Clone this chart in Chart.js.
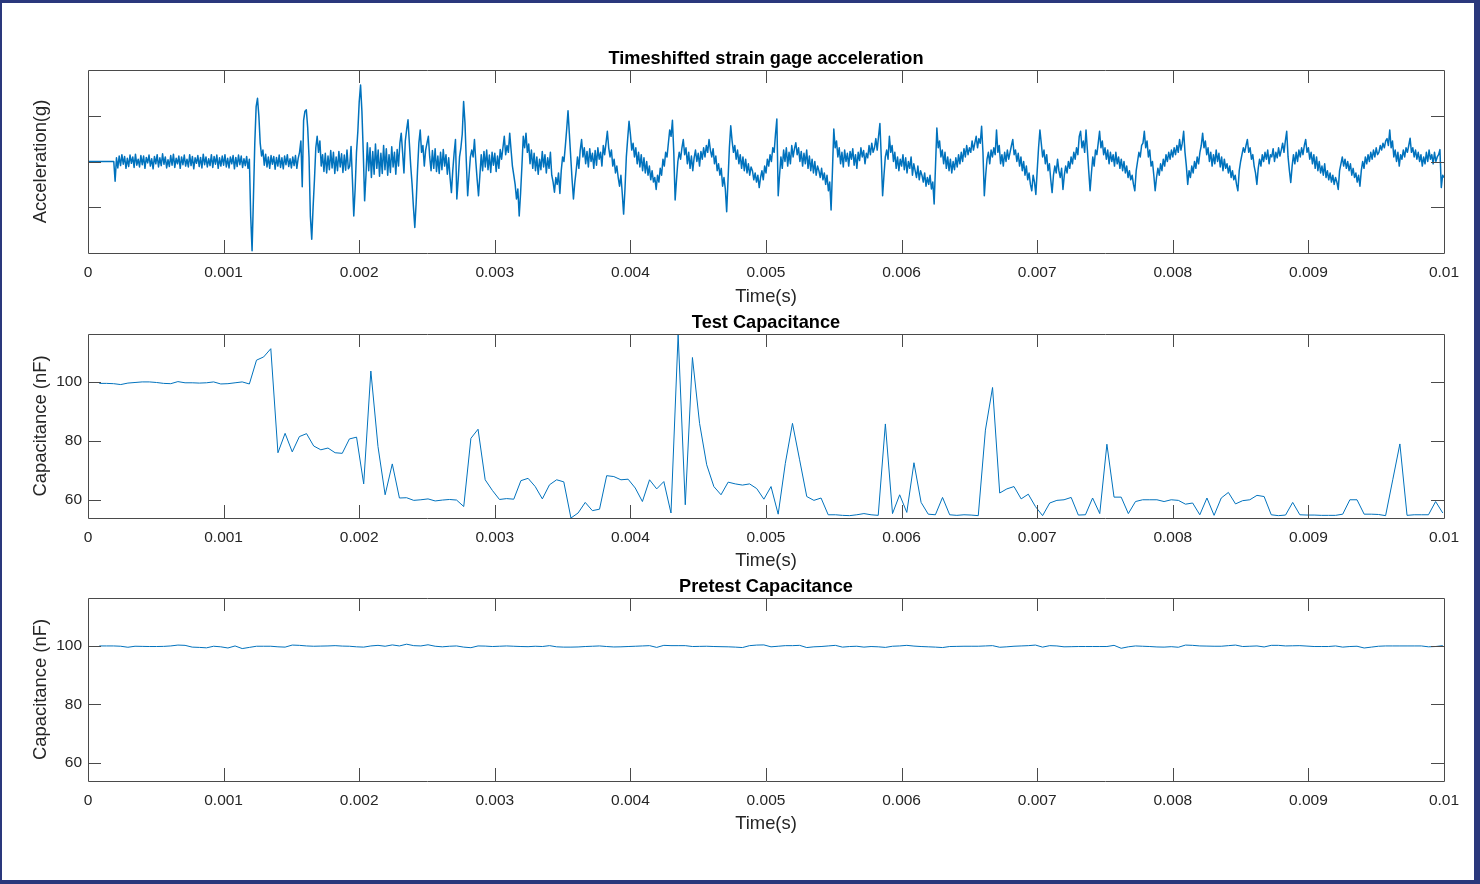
<!DOCTYPE html>
<html>
<head>
<meta charset="utf-8">
<title>Strain gage acceleration and capacitance</title>
<script src="https://cdn.jsdelivr.net/npm/chart.js@4.4.1/dist/chart.umd.min.js"></script>
<style>
  html, body { margin: 0; padding: 0; background: #fff; }
  body { width: 1480px; height: 884px; position: relative; overflow: hidden; }
  canvas { position: absolute; left: 0; }
  #frame {
    position: absolute; left: 0; top: 0; width: 1480px; height: 884px;
    border-style: solid; border-color: #2a387c; border-width: 3px 6px 4px 2px;
    box-sizing: border-box; pointer-events: none;
  }
</style>
</head>
<body>
<canvas id="accelChart" width="1480" height="313" style="top:0px"></canvas>
<canvas id="testChart" width="1480" height="273" style="top:305px"></canvas>
<canvas id="pretestChart" width="1480" height="271" style="top:570px"></canvas>
<div id="frame"></div>
<script>
// time axis ticks, shared by all three plots
const timeTicks = [0, 0.001, 0.002, 0.003, 0.004, 0.005, 0.006, 0.007, 0.008, 0.009, 0.01];

// strain gage acceleration, one sample every 10 us from t = 0 (axis is unlabelled)
const accelStep = 0.00001;
const accelTicks = [-100, 0, 100];
const accelValues = [
  0, 0, 0, 0, 0, 0, 0, 0, 0, 0, 0, 0, 0, 0, 0, 0, 0, 0, 0, 0,
  -43, 8, -14, 12, -9, 15, -6, 11, -15, 7, -11, 14, -4, 10, -13, 16, -8, 5, -12, 13,
  -7, 12, -15, 9, -3, 14, -10, 6, -16, 11, -5, 15, -12, 8, -9, 17, -6, 10, -14, 4,
  -11, 13, -8, 16, -13, 7, -5, 12, -15, 10, -7, 14, -10, 5, -12, 15, -9, 11, -16, 8,
  -4, 13, -11, 9, -14, 16, -7, 10, -12, 6, -9, 15, -13, 11, -6, 14, -15, 8, -10, 12,
  -8, 15, -12, 7, -14, 10, -5, 13, -16, 9, -11, 14, -7, 12, -13, 6, -9, 11, -15, 5,
  -120, -195, -80, 40, 120, 138, 100, 40, 12, 25, -8, 16, -12, 10, -15, 13, -6, 11, -17, 9,
  -10, 14, -13, 8, -16, 12, -7, 15, -11, 6, -14, 10, -9, 13, -15, 7, 20, 45, -55, 90,
  110, 113, 75, 10, -120, -170, -100, -40, 30, 55, 20, 45, -10, 15, -22, 18, -25, 12, -18, 24,
  -14, 20, -26, 10, -20, 22, -12, 17, -24, 14, -19, 25, -16, -10, 33, -40, -119, -60, 20, 66,
  130, 167, 110, 20, -86, -30, 41, -20, 30, -35, 22, -28, 38, -15, 25, -32, 18, -26, 35, -18,
  28, -30, 15, -24, 32, -12, 20, -28, 26, -10, 40, 62, 20, -25, 45, 70, 91, 40, -10, -50,
  -100, -144, -90, -20, 40, 69, 20, 35, -10, 25, 40, 55, 10, -20, 24, -15, 28, -22, 12, -26,
  20, -18, 26, -10, 15, -28, 8, -35, -68, -20, 18, 48, -82, -40, 10, 30, 60, 131, 85, 0,
  -75, -30, 10, 25, 10, 48, 0, -40, -75, -30, 15, -20, 22, -12, 25, -18, 14, -24, 20, -8,
  18, -22, 12, -15, 26, 5, 30, 55, 15, 35, 20, 62, 25, -10, -30, -50, -82, -60, -119, -70,
  -10, 55, 30, 62, 20, 38, -5, 25, -15, 18, -20, 10, -28, 5, -18, 22, -12, 15, -25, 8,
  -15, 20, -30, -45, -67, -35, -50, -25, -70, -20, 10, 0, 33, 70, 111, 60, 10, -40, -82, -46,
  -20, 10, -15, 25, 48, 10, 30, -5, 22, -12, 28, 0, 18, -15, 24, -8, 30, 5, 20, -10,
  35, 15, 40, 66, 30, 10, 25, -10, 5, -25, -10, -35, -54, -30, -70, -115, -60, 10, 50, 88,
  60, 25, 40, 10, 30, -5, 20, -12, 15, -20, 8, -25, 0, -30, -10, -40, -20, -45, -35, -61,
  -30, -45, -15, -30, 5, -10, 20, 10, 40, 69, 55, 90, 20, -84, -40, 0, 20, 5, 30, 48,
  15, 30, -5, 20, -15, 12, -20, 8, 25, 0, 18, -10, 22, 5, 30, 10, 35, 20, 48, 25,
  10, 28, -5, 12, -20, -5, -30, -15, -54, -35, -60, -110, -40, 30, 78, 45, 20, 35, 5, 25,
  -5, 15, -15, 10, -20, 5, -25, -5, -30, -12, -20, -40, -25, -45, -30, -57, -35, -20, -40, -10,
  -25, 5, -10, 15, 0, 30, 20, 60, 93, -75, -30, 10, -15, 25, 0, 30, -10, 20, -5, 35,
  10, 28, 41, 15, 30, 0, 22, -10, 18, -5, 25, -15, 12, -20, 5, -25, 0, -30, -10, -20,
  -35, -15, -40, -25, -50, -30, -64, -45, -106, -20, 71, 30, 45, 10, 30, -5, 20, -12, 25, 0,
  18, -10, 22, 5, 28, -8, 15, -15, 20, 2, 30, 10, 24, -5, 18, 8, 35, 15, 40, 20,
  30, 50, 25, 55, 83, 10, -75, -30, 10, 25, 5, 55, 20, 35, 0, 20, -15, 10, -20, 5,
  -10, 15, -18, 8, -25, 0, -15, 10, -30, -5, -20, -35, -10, -40, -20, -30, -45, -25, -54, -35,
  -50, -30, -60, -45, -93, -10, 73, 30, 45, 10, 25, -5, 20, -15, 10, -20, 5, -25, 0, -18,
  8, -12, 15, -5, 20, 0, 28, 10, 35, 15, 30, 20, 45, 25, 40, 55, 30, 50, 40, 77,
  20, -75, -30, 5, 20, -5, 25, 10, 30, 15, 69, 20, 35, -5, 15, -10, 20, 0, 25, 5,
  20, 35, 48, 15, 25, 0, 18, -10, 10, -20, 0, -30, -10, -40, -25, -50, -64, -30, -45, -72,
  -20, 30, 69, 40, 10, 25, -5, 15, -20, -5, -40, -68, -30, -10, -25, 5, -20, -35, -15, -61,
  -30, -10, -25, 0, -15, 10, -5, 20, 5, 30, 15, 55, 66, 30, 45, 20, 69, 25, -20, -64,
  -25, 10, -10, 25, 15, 40, 66, 30, 45, 15, 30, 5, 25, -5, 20, 0, 15, -10, 20, -5,
  10, -15, 5, -20, 0, -25, -10, -35, -20, -40, -30, -50, -64, -20, 0, 20, 10, 35, 40, 66,
  30, 45, 10, 25, -10, 0, -30, -64, -35, -15, -30, -5, -20, 5, -10, 15, 0, 20, 5, 25,
  10, 30, 15, 35, 20, 48, 25, 40, 66, 20, -10, -50, -20, -35, -10, -25, 0, -15, 10, -5,
  20, 35, 62, 30, 45, 15, 30, 0, 20, -10, 15, -5, 25, 0, 18, -12, 10, -20, 5, -15,
  -5, -25, -10, -35, -20, -40, -30, -50, -64, -20, 0, 15, 30, 20, 35, 48, 20, 30, 5, 15,
  -10, -25, -50, -15, 5, -10, 15, 0, 20, 5, 25, -5, 15, 10, 28, 0, 20, 8, 30, 12,
  25, 40, 20, 45, 66, 10, -20, -46, -10, 15, -5, 20, 0, 25, 10, 30, 15, 35, 48, 20,
  30, 5, 20, -5, 15, -15, 10, -20, 0, -25, -10, -30, -5, -35, -20, -40, -25, -45, -30, -50,
  -35, -45, -61, -20, -5, 10, -10, 5, -15, 0, -20, -5, -30, -15, -35, -25, -45, -30, -54, -20,
  0, -15, 10, -5, 15, 0, 20, 5, 25, 10, 30, 15, 20, 35, 25, 40, 30, 45, 50, 35,
  69, 30, 45, 10, 25, 0, 20, -10, 15, 5, 25, 10, 30, 20, 35, 51, 20, 30, 10, 25,
  5, 20, 0, 15, -10, 10, -5, 20, 0, 25, 5, 15, -5, 20, 0, 10, 15, 26, -57, -30,
  -35
];

// capacitance samples (nF), both runs on the same time base
const capStart = 0.0000833;
const capStep = 0.0000527;
const capTicks = [60, 80, 100];
const capMin = 53.8;
const capMax = 116.4;

const testCapValues = [
  99.6, 99.6, 99.5, 99.2, 99.7, 99.9, 100.1, 100.1, 99.9, 99.6, 99.5, 100.2, 99.8, 99.8, 99.7, 99.8,
  100.1, 99.4, 99.5, 99.8, 100.1, 99.4,
  107.5, 108.6, 111.4, 76.0, 82.6, 76.3, 81.5, 82.5, 78.3, 77.0,
  77.6, 76.0, 75.8, 80.7, 81.3, 65.4, 103.8, 78.1, 61.7, 72.2,
  60.6, 60.7, 59.8, 60.0, 60.3, 59.6, 59.9, 60.1, 59.9, 57.7,
  80.9, 84.0, 66.8, 63.2, 60.1, 60.4, 60.2, 66.5, 67.3, 64.5,
  60.3, 65.1, 66.8, 66.1, 53.8, 55.5, 59.1, 56.3, 56.8, 68.2,
  67.9, 66.8, 67.0, 64.0, 59.4, 66.8, 63.7, 66.2, 55.5, 116.3,
  58.3, 108.4, 86.0, 71.9, 64.5, 61.7, 66.0, 65.4, 65.0, 65.4,
  63.8, 60.2, 64.5, 55.1, 72.4, 86.0, 73.6, 61.1, 59.8, 60.6,
  54.9, 54.9, 54.7, 54.6, 54.9, 55.3, 54.9, 54.7, 85.8, 55.3,
  61.7, 55.7, 72.6, 59.1, 55.1, 54.9, 60.8, 54.9, 54.7, 54.9,
  54.8, 54.6, 83.7, 98.2, 62.3, 63.7, 64.5, 60.3, 61.9, 57.7,
  54.6, 58.9, 59.8, 60.0, 60.8, 54.8, 54.9, 60.6, 55.3, 78.9,
  60.9, 60.9, 55.3, 59.4, 60.0, 60.0, 60.0, 59.4, 60.0, 59.8,
  58.5, 58.9, 54.9, 60.6, 54.7, 60.6, 62.5, 58.6, 59.7, 60.0,
  61.5, 61.1, 54.9, 54.6, 54.8, 59.1, 54.9, 54.8, 54.8, 54.7,
  54.7, 54.7, 55.1, 60.0, 60.0, 55.1, 55.1, 55.0, 54.6, 66.8,
  79.0, 54.7, 54.9, 54.9, 54.9, 59.4, 55.5
];

const pretestCapValues = [
  100.0, 100.0, 100.0, 99.9, 99.55, 99.9, 99.85, 99.8, 99.8, 99.85,
  100.0, 100.3, 100.2, 99.6, 99.5, 99.35, 99.9, 99.7, 99.3, 100.0,
  99.1, 99.5, 99.9, 99.9, 99.9, 99.7, 99.6, 100.3, 100.2, 100.0,
  99.9, 99.95, 100.0, 100.1, 99.95, 99.9, 99.7, 99.6, 100.0, 100.2,
  99.9, 100.35, 100.0, 100.6, 100.1, 100.0, 100.4, 99.9, 99.7, 99.9,
  100.0, 99.6, 99.4, 100.0, 99.95, 99.8, 99.9, 100.0, 99.9, 99.8,
  99.75, 99.9, 99.8, 100.1, 99.7, 99.6, 99.6, 99.65, 99.8, 99.9,
  100.0, 99.8, 99.65, 99.7, 99.8, 99.9, 100.0, 100.1, 99.5, 100.2,
  100.1, 100.1, 100.1, 99.8, 99.85, 99.9, 99.8, 99.75, 99.7, 99.6,
  99.45, 100.1, 100.3, 100.35, 99.7, 99.9, 100.1, 100.1, 100.2, 99.45,
  99.7, 99.8, 100.0, 100.2, 99.6, 99.8, 99.9, 99.6, 99.8, 99.7,
  99.5, 99.9, 100.0, 100.2, 99.95, 99.8, 99.7, 99.6, 99.45, 99.8,
  99.85, 99.9, 99.9, 99.9, 100.0, 100.1, 99.55, 99.7, 99.9, 100.0,
  100.1, 100.3, 99.6, 100.1, 100.0, 99.7, 99.75, 99.8, 99.8, 99.8,
  99.8, 99.8, 100.2, 99.2, 99.7, 100.0, 99.9, 99.8, 99.65, 99.6,
  99.75, 99.55, 100.3, 100.2, 100.0, 99.95, 99.9, 99.9, 100.1, 100.3,
  99.8, 99.9, 100.0, 99.65, 100.2, 100.2, 100.0, 100.05, 100.1, 99.95,
  99.8, 99.8, 99.8, 100.0, 99.6, 99.8, 99.9, 99.3, 99.6, 99.9,
  100.0, 100.0, 100.0, 100.0, 100.0, 100.0, 99.7, 99.8, 100.1
];

const LINE = '#0072BD';
const INK = '#262626';
const FONT = '"Liberation Sans", Arial, Helvetica, sans-serif';

// pair up sample times and values for the line datasets
function toPoints(values, start, step) {
    return values.map((v, i) => ({ x: start + i * step, y: v }));
}

// MATLAB-like axes box with tick marks pointing inward on all four sides
const boxPlugin = {
    id: 'matlabBox',
    afterDatasetsDraw(chart) {
        const { ctx, chartArea: a, scales: { x, y } } = chart;
        const len = 13;
        ctx.save();
        ctx.strokeStyle = '#4a4a4a';
        ctx.lineWidth = 1;
        ctx.beginPath();
        x.ticks.forEach(t => {
            const px = Math.round(x.getPixelForValue(t.value)) + 0.5;
            if (px - a.left < 2 || a.right - px < 2) return;
            ctx.moveTo(px, a.bottom); ctx.lineTo(px, a.bottom - len);
            ctx.moveTo(px, a.top); ctx.lineTo(px, a.top + len);
        });
        y.ticks.forEach(t => {
            const py = Math.round(y.getPixelForValue(t.value)) + 0.5;
            if (py - a.top < 2 || a.bottom - py < 2) return;
            ctx.moveTo(a.left, py); ctx.lineTo(a.left + len, py);
            ctx.moveTo(a.right, py); ctx.lineTo(a.right - len, py);
        });
        ctx.rect(Math.round(a.left) + 0.5, Math.round(a.top) + 0.5,
                 Math.round(a.right - a.left), Math.round(a.bottom - a.top));
        ctx.stroke();
        ctx.restore();
    }
};

function makeChart(id, cfg) {
    const ctx = document.getElementById(id)?.getContext('2d');
    if (!ctx) {
        console.warn('Canvas ' + id + ' not found.');
        return null;
    }
    return new Chart(ctx, {
        type: 'line',
        data: {
            datasets: [{
                data: cfg.points,
                borderColor: LINE,
                borderWidth: cfg.lineWidth,
                borderJoinStyle: 'round',
                pointRadius: 0,
                fill: false,
                tension: 0
            }]
        },
        options: {
            responsive: false,
            animation: false,
            devicePixelRatio: 1,
            layout: { padding: { left: 0, right: 36, top: 0, bottom: 0 } },
            plugins: {
                legend: { display: false },
                tooltip: { enabled: false },
                title: {
                    display: true,
                    fullSize: false,
                    text: cfg.title,
                    color: '#000',
                    font: { family: FONT, size: 18.2, weight: 'bold' },
                    padding: cfg.titlePad
                }
            },
            scales: {
                x: {
                    type: 'linear',
                    min: 0,
                    max: 0.01,
                    afterBuildTicks: s => { s.ticks = timeTicks.map(v => ({ value: v })); },
                    afterFit: s => { s.height = 60; },
                    grid: { display: false, drawTicks: false },
                    border: { display: false },
                    ticks: {
                        color: INK,
                        font: { family: FONT, size: 15.5 },
                        padding: 10,
                        maxRotation: 0,
                        autoSkip: false,
                        callback: v => String(+Number(v).toFixed(6))
                    },
                    title: {
                        display: true,
                        text: 'Time(s)',
                        color: INK,
                        font: { family: FONT, size: 18.4 },
                        padding: { top: 0, bottom: cfg.xTitlePad }
                    }
                },
                y: {
                    type: 'linear',
                    min: cfg.yMin,
                    max: cfg.yMax,
                    afterBuildTicks: s => { s.ticks = cfg.yTicks.map(v => ({ value: v })); },
                    afterFit: s => { s.width = 88; },
                    grid: { display: false, drawTicks: false },
                    border: { display: false },
                    ticks: {
                        color: INK,
                        font: { family: FONT, size: 15.5 },
                        padding: 6,
                        autoSkip: false,
                        callback: cfg.yLabels ? (v => String(v)) : (() => '')
                    },
                    title: {
                        display: true,
                        text: cfg.yTitle,
                        color: INK,
                        font: { family: FONT, size: 18.4 },
                        padding: { top: 30, bottom: 0 }
                    }
                }
            }
        },
        plugins: [boxPlugin]
    });
}

makeChart('accelChart', {
    title: 'Timeshifted strain gage acceleration',
    titlePad: { top: 48.1, bottom: 0.06 },
    xTitlePad: 5.5,
    lineWidth: 1.5,
    points: toPoints(accelValues, 0, accelStep),
    yMin: -200, yMax: 200, yTicks: accelTicks, yLabels: false,
    yTitle: 'Acceleration(g)'
});

makeChart('testChart', {
    title: 'Test Capacitance',
    titlePad: { top: 7.0, bottom: 0.16 },
    xTitlePad: 6.5,
    lineWidth: 1,
    points: toPoints(testCapValues, capStart, capStep),
    yMin: capMin, yMax: capMax, yTicks: capTicks, yLabels: true,
    yTitle: 'Capacitance (nF)'
});

makeChart('pretestChart', {
    title: 'Pretest Capacitance',
    titlePad: { top: 6.0, bottom: 0.16 },
    xTitlePad: 6.5,
    lineWidth: 1,
    points: toPoints(pretestCapValues, capStart, capStep),
    yMin: capMin, yMax: capMax, yTicks: capTicks, yLabels: true,
    yTitle: 'Capacitance (nF)'
});
</script>
</body>
</html>
